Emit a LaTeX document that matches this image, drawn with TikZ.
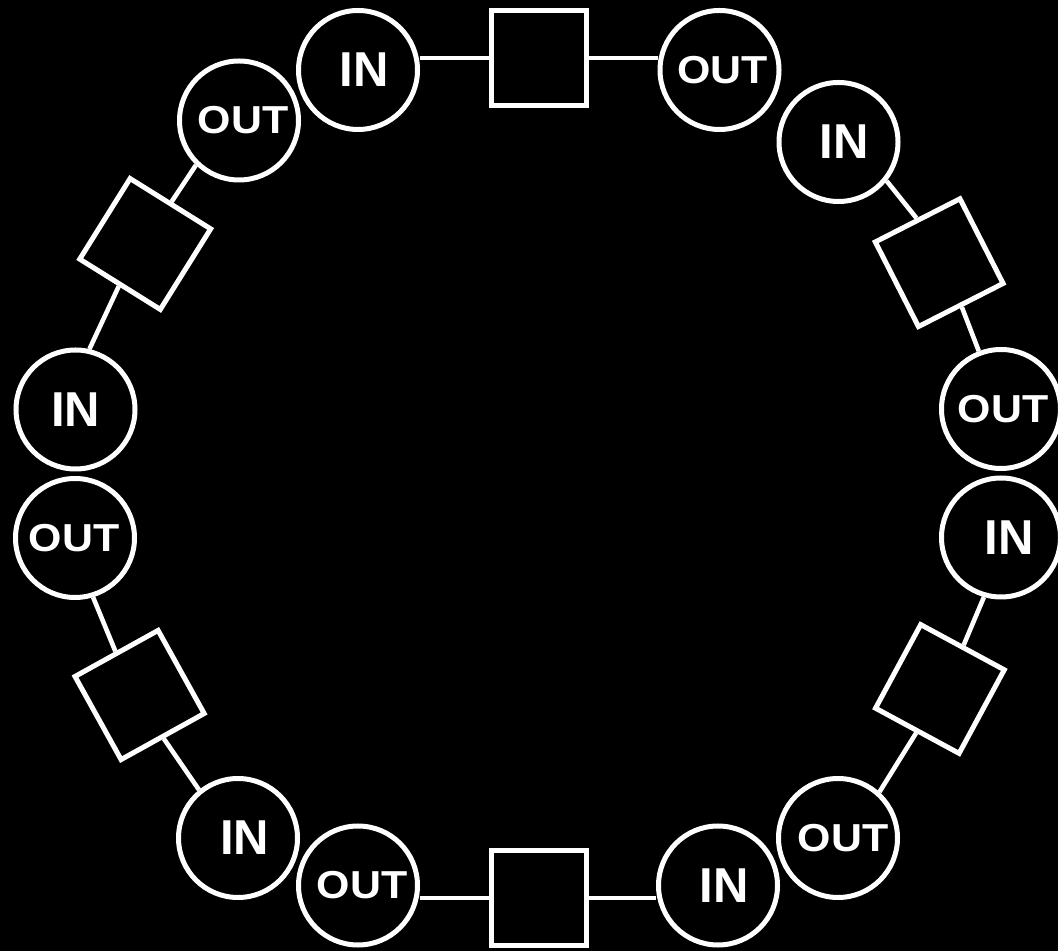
\documentclass[tikz,border=0pt]{standalone}
\usepackage{fontspec}
\setmainfont{Liberation Sans}
\newcommand\shiftlab[2]{\hspace*{#1}#2}
\newcommand\inlab[1]{\shiftlab{#1}{IN}}
\newcommand\outlab[1]{\shiftlab{#1}{\scalebox{1.1}[1]{OUT}}}
\begin{document}
\begin{tikzpicture}[x=1pt,y=1pt,
  port/.style={circle,draw=white,line width=5pt,minimum size=119pt,inner sep=0pt,text=white},
  inport/.style={port,font=\fontsize{49}{49}\selectfont\bfseries},
  outport/.style={port,font=\fontsize{39}{39}\selectfont\bfseries},
  block/.style={rectangle,draw=white,line width=5pt,minimum size=95pt,inner sep=0pt},
  link/.style={draw=white,line width=4.6pt}]
\fill[black] (0,0) rectangle (1058,951);
\useasboundingbox (0,0) rectangle (1058,951);
% ports
\node[inport]  (c1)  at (358,881)    {\inlab{12pt}};
\node[outport] (c2)  at (719.5,881)  {\outlab{6pt}};
\node[inport]  (c3)  at (838.5,809)  {\inlab{11pt}};
\node[outport] (c4)  at (1001,542)   {\outlab{4pt}};
\node[inport]  (c5)  at (1001,413.5) {\inlab{16pt}};
\node[outport] (c6)  at (838,113)    {\outlab{10pt}};
\node[inport]  (c7)  at (718,65.5)   {\inlab{12pt}};
\node[outport] (c8)  at (358,65.5)   {\outlab{8pt}};
\node[inport]  (c9)  at (238,113)    {\inlab{13pt}};
\node[outport] (c10) at (75,413)     {\outlab{-2pt}};
\node[inport]  (c11) at (75.5,541.5) {\inlab{0pt}};
\node[outport] (c12) at (239,830.5)  {\outlab{8pt}};
% blocks
\node[block]              (s1) at (538.5,893) {};
\node[block,rotate=27]    (s2) at (939.2,688.3) {};
\node[block,rotate=-28.4] (s3) at (939.9,262) {};
\node[block]              (s4) at (538.5,53) {};
\node[block,rotate=29]    (s5) at (139.6,256) {};
\node[block,rotate=-32]   (s6) at (145.2,707) {};
% links
\draw[link] (s1.west) -- (s1.west -| c1.east);
\draw[link] (s1.east) -- (s1.east -| c2.west);
\draw[link] (s2.north) -- (c3.-39.5);
\draw[link] (s2.south) -- (c4.111);
\draw[link] (s3.north) -- (c5.254);
\draw[link] (s3.south) -- (c6.48.7);
\draw[link] (s4.east) -- (s4.east -| c7.west);
\draw[link] (s4.west) -- (s4.west -| c8.east);
\draw[link] (s5.south) -- (c9.129.7);
\draw[link] (s5.north) -- (c10.-73.6);
\draw[link] (s6.south) -- (c11.77);
\draw[link] (s6.north) -- (c12.226);
\end{tikzpicture}
\end{document}
